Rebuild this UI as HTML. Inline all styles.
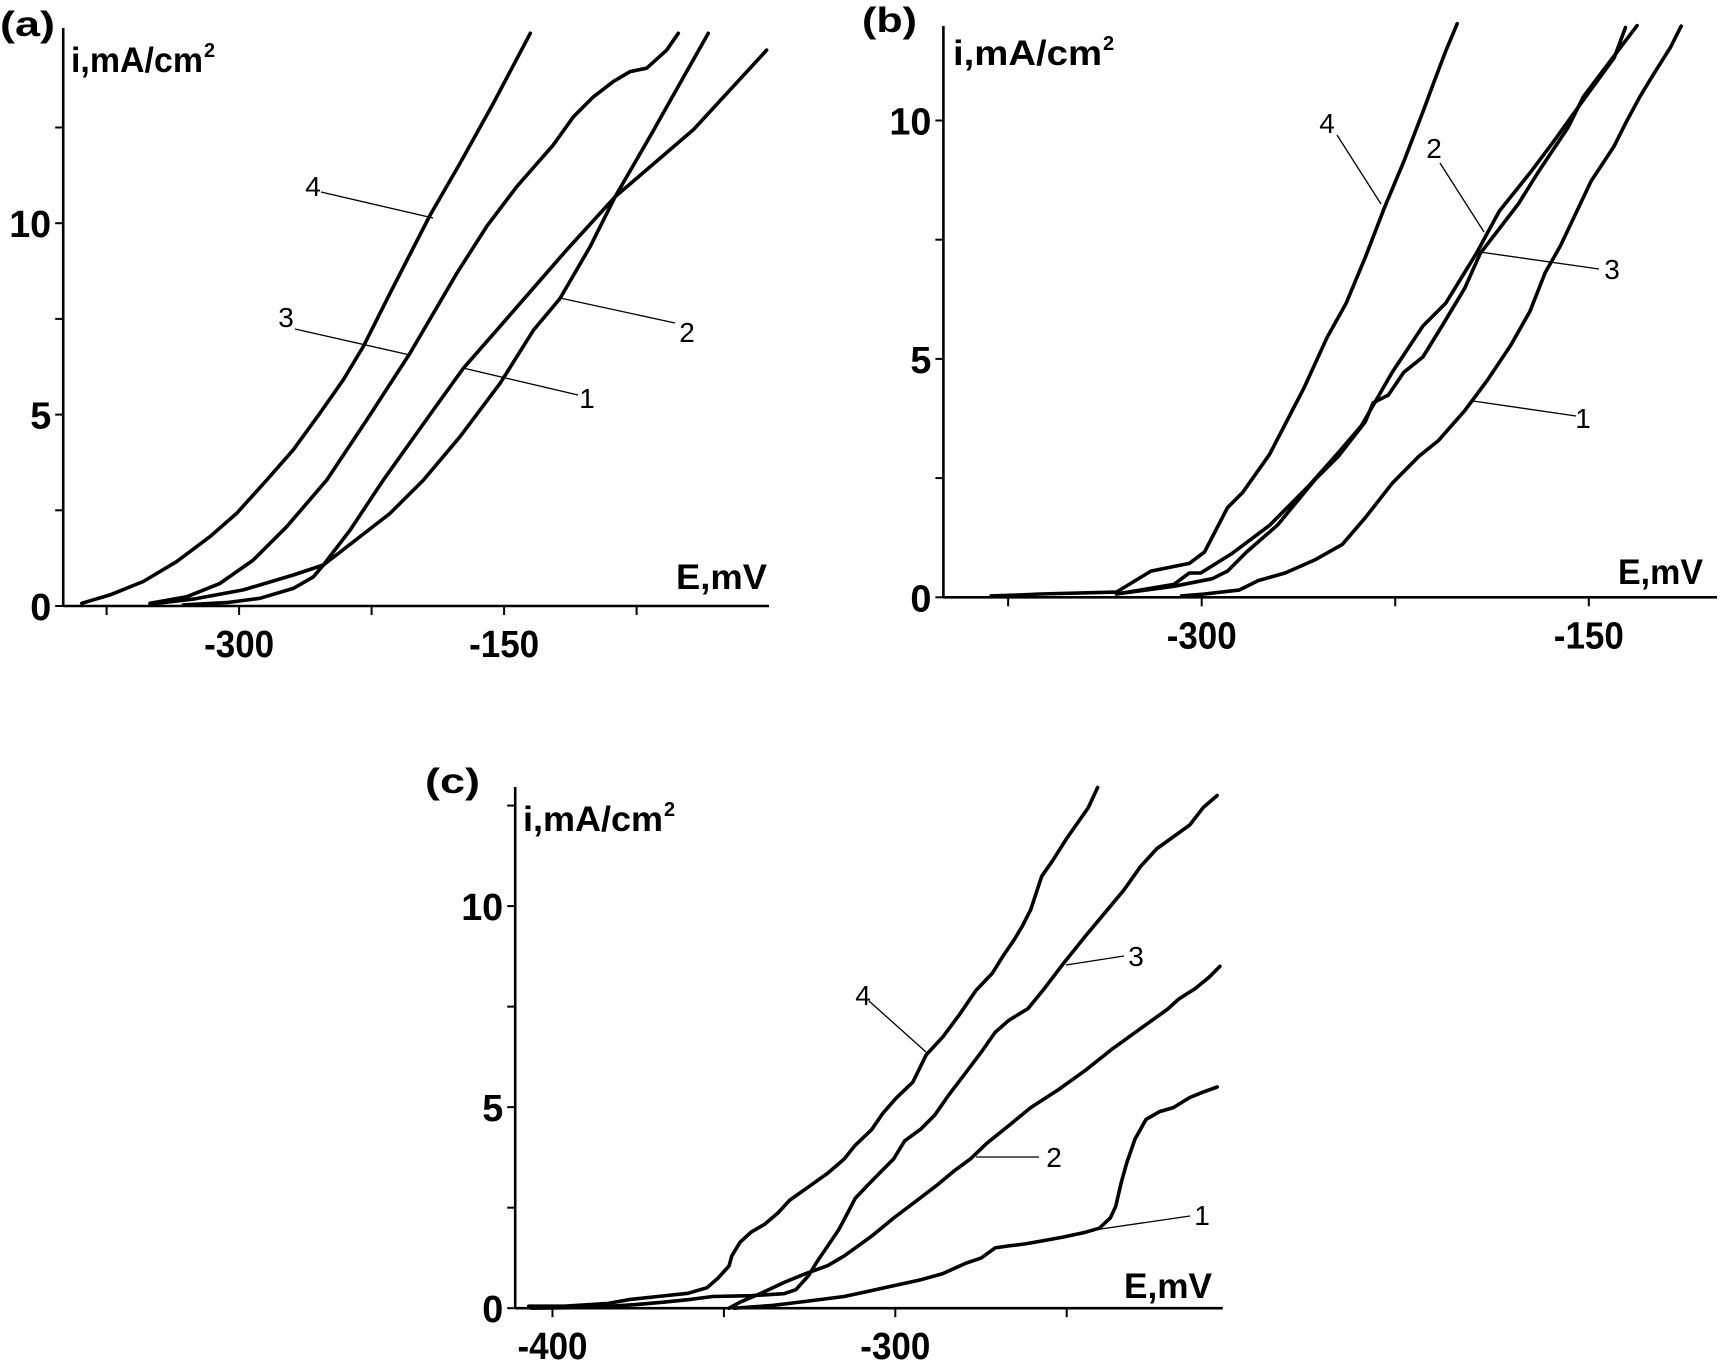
<!DOCTYPE html>
<html>
<head>
<meta charset="utf-8">
<style>
html,body{margin:0;padding:0;background:#fff;}
svg{display:block;}
text{font-family:"Liberation Sans",sans-serif;fill:#000;}
.tick{font-weight:bold;font-size:38px;}
.ttl{font-weight:bold;font-size:35px;}
.lab{font-size:28px;}
</style>
</head>
<body>
<svg id="chart" width="1724" height="1360" viewBox="0 0 1724 1360" xmlns="http://www.w3.org/2000/svg">
  <g id="pa"></g>
  <g id="pb"></g>
  <g id="pc"></g>
</svg>
<script>
// ---------- Panel (a) data ----------
const aXTicks = [-375, -300, -225, -150, -75];
const aXTickLabels = [-300, -150];
const aYTicks = [0, 2.5, 5, 7.5, 10, 12.5];
const aYTickLabels = [0, 5, 10];
const aE1 = [-331.6,-307.0,-288.2,-269.3,-258.0,-252.3,-237.2,-218.4,-190.1,-173.1,-152.4,-114.6,-87.2,-42.9,-1.4];
const aI1 = [0.03,0.09,0.2,0.46,0.76,1.07,1.98,3.29,5.12,6.21,7.3,9.3,10.69,12.44,14.52];
const aE2 = [-350.4,-325.9,-297.6,-269.3,-252.3,-214.6,-195.7,-175.0,-152.4,-133.5,-118.4,-101.4,-87.2,-67.5,-50.5,-34.4];
const aI2 = [0.05,0.18,0.42,0.81,1.07,2.42,3.29,4.42,5.81,7.2,8.03,9.38,10.69,12.26,13.65,14.96];
const aE3 = [-350.4,-329.7,-310.8,-292.0,-273.1,-250.4,-227.8,-203.3,-176.8,-159.9,-142.9,-122.2,-110.8,-99.5,-88.2,-78.7,-69.3,-58.0,-51.4];
const aI3 = [0.07,0.24,0.59,1.2,2.07,3.29,4.86,6.6,8.69,9.91,10.95,12.04,12.78,13.3,13.7,13.96,14.05,14.52,14.96];
const aE4 = [-389.1,-373.1,-354.2,-335.3,-316.5,-301.4,-284.4,-269.3,-254.2,-241.0,-229.7,-214.6,-192.0,-175.0,-156.1,-135.2];
const aI4 = [0.07,0.29,0.64,1.16,1.81,2.42,3.29,4.08,5.04,5.91,6.78,8.17,10.2,11.56,13.13,14.96];

// ---------- Panel (b) data ----------
const bXTicks = [-375, -300, -225, -150];
const bXTickLabels = [-300, -150];
const bYTicks = [0, 2.5, 5, 7.5, 10];
const bYTickLabels = [0, 5, 10];
const bE1 = [-307.8,-298.9,-285.5,-278.1,-267.7,-255.9,-245.5,-236.6,-226.2,-215.8,-208.4,-198.0,-189.2,-180.3,-172.8,-166.9,-161.0,-149.1,-140.2,-135.8,-130.2,-124.8,-118.4,-114.2];
const bI1 = [0.03,0.07,0.15,0.35,0.51,0.79,1.11,1.67,2.39,2.96,3.28,3.92,4.56,5.28,6.0,6.81,7.37,8.73,9.46,9.94,10.5,10.98,11.53,11.98];
const bE2 = [-333.0,-310.8,-304.8,-300.4,-288.5,-273.7,-258.8,-247.0,-238.1,-226.2,-214.3,-205.4,-193.6,-184.7,-172.8,-163.9,-152.1,-140.2,-135.8];
const bI2 = [0.07,0.27,0.51,0.51,0.91,1.51,2.32,3.04,3.6,4.72,5.69,6.17,7.21,8.1,8.9,9.54,10.43,11.31,11.95];
const bE3 = [-333.0,-310.8,-295.9,-290.0,-282.6,-270.7,-255.9,-247.0,-236.6,-233.6,-227.7,-221.7,-214.3,-206.9,-198.0,-192.1,-177.3,-169.8,-158.0,-152.1,-143.2,-131.3];
const bI3 = [0.07,0.23,0.39,0.55,0.95,1.51,2.48,2.96,3.68,4.08,4.24,4.72,5.04,5.69,6.49,7.21,8.25,8.9,9.86,10.5,11.14,11.99];
const bE4 = [-381.6,-369.9,-362.7,-333.0,-319.7,-304.8,-298.9,-290.0,-284.1,-273.7,-260.3,-251.4,-244.0,-236.6,-229.2,-221.7,-214.3,-209.9,-205.4,-201.0];
const bI4 = [0.03,0.05,0.07,0.11,0.55,0.71,0.95,1.88,2.2,3.0,4.4,5.45,6.17,7.13,8.17,9.14,10.18,10.82,11.46,12.03];

// ---------- Panel (c) data ----------
const cXTicks = [-400, -350, -300, -250];
const cXTickLabels = [-400, -300];
const cYTicks = [0, 2.5, 5, 7.5, 10, 12.5];
const cYTickLabels = [0, 5, 10];
const cE1 = [-346.9,-335.7,-326.1,-314.9,-308.5,-300.5,-292.5,-286.1,-279.7,-274.9,-270.9,-266.9,-262.1,-257.3,-250.9,-244.5,-240.5,-237.3,-235.7,-234.1,-232.5,-230.1,-226.9,-222.9,-218.9,-214.1,-210.1,-206.1];
const cI1 = [0.0,0.07,0.17,0.29,0.41,0.56,0.71,0.86,1.11,1.25,1.5,1.55,1.6,1.67,1.77,1.89,1.99,2.24,2.53,3.12,3.61,4.2,4.69,4.89,4.99,5.24,5.38,5.5];
const cE2 = [-348.5,-345.3,-338.9,-332.5,-326.1,-319.7,-314.9,-306.9,-300.5,-294.1,-287.7,-282.9,-278.1,-273.3,-266.9,-260.5,-252.5,-244.5,-236.5,-228.5,-220.5,-217.3,-212.5,-208.5,-205.3];
const cI2 = [0.0,0.15,0.38,0.64,0.86,1.06,1.3,1.79,2.24,2.65,3.07,3.41,3.71,4.1,4.54,4.99,5.43,5.92,6.46,6.95,7.44,7.69,7.95,8.23,8.5];
const cE3 = [-406.1,-388.5,-375.7,-367.7,-359.7,-353.3,-342.1,-332.5,-329.0,-325.3,-322.9,-319.7,-316.5,-314.1,-311.7,-308.5,-304.5,-300.5,-297.3,-292.5,-288.5,-284.5,-279.7,-274.9,-270.9,-266.9,-261.3,-256.5,-250.9,-244.5,-238.1,-233.3,-228.5,-223.7,-218.9,-214.1,-210.1,-206.1];
const cI3 = [0.0,0.02,0.09,0.15,0.22,0.29,0.31,0.36,0.46,0.81,1.15,1.55,1.95,2.34,2.73,3.02,3.37,3.71,4.16,4.46,4.8,5.29,5.83,6.37,6.86,7.16,7.45,7.95,8.58,9.26,9.91,10.4,10.98,11.43,11.72,12.02,12.46,12.75];
const cE4 = [-406.9,-396.5,-383.7,-377.3,-369.3,-360.5,-354.9,-351.7,-348.5,-347.7,-345.3,-342.1,-338.1,-334.1,-330.9,-325.3,-319.7,-314.9,-311.7,-306.9,-303.7,-299.7,-294.9,-291.0,-286.1,-281.3,-276.5,-271.7,-268.5,-265.3,-262.9,-260.5,-257.3,-254.1,-250.1,-246.9,-243.7,-241.0];
const cI4 = [0.05,0.05,0.12,0.22,0.29,0.37,0.51,0.75,1.05,1.3,1.64,1.89,2.09,2.38,2.68,3.02,3.36,3.71,4.05,4.44,4.84,5.23,5.62,6.3,6.75,7.3,7.9,8.33,8.77,9.17,9.51,9.91,10.74,11.13,11.67,12.06,12.45,12.95];

const SVGNS = "http://www.w3.org/2000/svg";
function el(tag, parent) {
  const e = document.createElementNS(SVGNS, tag);
  parent.appendChild(e);
  return e;
}

function makeAxes(x0, e0, pxPerMv, y0, pxPerUnit) {
  return {
    x: function (E) { return x0 + (E - e0) * pxPerMv; },
    y: function (i) { return y0 - i * pxPerUnit; }
  };
}
const axA = makeAxes(239.1, -300, 1.7667, 606, 38.28);
const axB = makeAxes(1201.7, -300, 2.5807, 597.3, 47.68);
const axC = makeAxes(552.5, -400, 3.428, 1308.2, 40.21);

function drawCurve(g, ax, E, I, name) {
  const p = el('path', g);
  let d = '';
  for (let k = 0; k < E.length; k++) {
    d += (k ? 'L' : 'M') + ax.x(E[k]).toFixed(1) + ' ' + ax.y(I[k]).toFixed(1);
  }
  p.setAttribute('d', d);
  p.setAttribute('fill', 'none');
  p.setAttribute('stroke', '#000');
  p.setAttribute('stroke-width', '3.6');
  p.setAttribute('stroke-linejoin', 'round');
  p.setAttribute('stroke-linecap', 'round');
  
  
}

function line(g, x1, y1, x2, y2, w, name) {
  const l = el('line', g);
  l.setAttribute('x1', x1); l.setAttribute('y1', y1);
  l.setAttribute('x2', x2); l.setAttribute('y2', y2);
  l.setAttribute('stroke', '#000');
  l.setAttribute('stroke-width', w);
  
  
  return l;
}

function text(g, x, y, str, cls, anchor, name) {
  const t = el('text', g);
  t.setAttribute('x', x);
  t.setAttribute('y', y);
  t.setAttribute('class', cls);
  t.setAttribute('text-anchor', anchor);
  t.textContent = str;
  
  
  return t;
}

function drawAxes(g, ax, L) {
  line(g, L.yAxisX, L.top, L.yAxisX, ax.y(0), 2.6, 'y-axis');
  line(g, L.yAxisX, ax.y(0), L.right, ax.y(0), 2.6, 'x-axis');
  L.xTicks.forEach(function (v) {
    line(g, ax.x(v), ax.y(0), ax.x(v), ax.y(0) + 9, 2, 'x-tick');
  });
  L.yTicks.forEach(function (v) {
    line(g, L.yAxisX - 8, ax.y(v), L.yAxisX, ax.y(v), 2, 'y-tick');
  });
  L.xLabels.forEach(function (v) {
    const t = text(g, ax.x(v), ax.y(0) + 51, String(v), 'tick', 'middle', 'x-tick-label');
    t.setAttribute('textLength', String(v).length * 17.5);
    t.setAttribute('lengthAdjust', 'spacingAndGlyphs');
  });
  L.yLabels.forEach(function (v) {
    const t = text(g, L.yAxisX - 12, ax.y(v) + 14, String(v), 'tick', 'end', 'y-tick-label');
    t.setAttribute('textLength', String(v).length * 21);
    t.setAttribute('lengthAdjust', 'spacingAndGlyphs');
  });
  const p = text(g, L.letter[0], L.letter[1], L.letterText, 'ttl', 'start', 'panel-label');
  p.setAttribute('textLength', '55');
  p.setAttribute('lengthAdjust', 'spacingAndGlyphs');
  const yt = text(g, L.yTitle[0], L.yTitle[1], 'i,mA/cm', 'ttl', 'start', 'y-axis-title');
  yt.setAttribute('textLength', L.yTitleW);
  yt.setAttribute('lengthAdjust', 'spacingAndGlyphs');
  const sup = text(g, L.yTitle[0] + L.yTitleW + 1, L.yTitle[1] - 15, '2', 'ttl', 'start', 'y-axis-title-superscript');
  sup.setAttribute('style', 'font-size:20px');
  const xt = text(g, L.xTitle[0], L.xTitle[1], 'E,mV', 'ttl', 'start', 'x-axis-title');
  xt.setAttribute('textLength', L.xTitleW);
  xt.setAttribute('lengthAdjust', 'spacingAndGlyphs');
}

function leader(g, lbl, name) {
  line(g, lbl[2], lbl[3], lbl[4], lbl[5], 1.3, name + '-leader');
  text(g, lbl[0], lbl[1], lbl[6], 'lab', 'middle', name);
}

// ---------- Panel a ----------
(function () {
  const g = document.getElementById('pa');
  drawAxes(g, axA, {
    yAxisX: 63.2, top: 28, right: 769,
    xTicks: aXTicks, yTicks: aYTicks, xLabels: aXTickLabels, yLabels: aYTickLabels,
    letter: [0, 36], letterText: '(a)',
    yTitle: [71, 72], yTitleW: 132,
    xTitle: [676, 589], xTitleW: 91
  });
  drawCurve(g, axA, aE1, aI1, 'curve-a-1');
  drawCurve(g, axA, aE2, aI2, 'curve-a-2');
  drawCurve(g, axA, aE3, aI3, 'curve-a-3');
  drawCurve(g, axA, aE4, aI4, 'curve-a-4');
  leader(g, [313, 196, 321, 192, 433, 218, '4'], 'curve-label-a-4');
  leader(g, [286, 327, 295, 329, 410, 355, '3'], 'curve-label-a-3');
  leader(g, [687, 342, 675, 323, 560, 298, '2'], 'curve-label-a-2');
  leader(g, [587, 408, 578, 395, 463, 368, '1'], 'curve-label-a-1');
})();

// ---------- Panel b ----------
(function () {
  const g = document.getElementById('pb');
  drawAxes(g, axB, {
    yAxisX: 943.4, top: 26, right: 1717,
    xTicks: bXTicks, yTicks: bYTicks, xLabels: bXTickLabels, yLabels: bYTickLabels,
    letter: [862, 32], letterText: '(b)',
    yTitle: [953, 65], yTitleW: 149,
    xTitle: [1618, 584], xTitleW: 85
  });
  drawCurve(g, axB, bE1, bI1, 'curve-b-1');
  drawCurve(g, axB, bE2, bI2, 'curve-b-2');
  drawCurve(g, axB, bE3, bI3, 'curve-b-3');
  drawCurve(g, axB, bE4, bI4, 'curve-b-4');
  leader(g, [1327, 133, 1337, 135, 1381, 204, '4'], 'curve-label-b-4');
  leader(g, [1434, 158, 1440, 163, 1484, 232, '2'], 'curve-label-b-2');
  leader(g, [1612, 279, 1599, 269, 1480, 252, '3'], 'curve-label-b-3');
  leader(g, [1583, 428, 1576, 416, 1473, 401, '1'], 'curve-label-b-1');
})();

// ---------- Panel c ----------
(function () {
  const g = document.getElementById('pc');
  drawAxes(g, axC, {
    yAxisX: 515.2, top: 787, right: 1222.8,
    xTicks: cXTicks, yTicks: cYTicks, xLabels: cXTickLabels, yLabels: cYTickLabels,
    letter: [425, 793], letterText: '(c)',
    yTitle: [523, 831], yTitleW: 140,
    xTitle: [1124, 1298], xTitleW: 88
  });
  drawCurve(g, axC, cE1, cI1, 'curve-c-1');
  drawCurve(g, axC, cE2, cI2, 'curve-c-2');
  drawCurve(g, axC, cE3, cI3, 'curve-c-3');
  drawCurve(g, axC, cE4, cI4, 'curve-c-4');
  leader(g, [863, 1005, 869, 1001, 926, 1052, '4'], 'curve-label-c-4');
  leader(g, [1136, 966, 1124, 956, 1066, 965, '3'], 'curve-label-c-3');
  leader(g, [1054, 1167, 1039, 1157, 976, 1157, '2'], 'curve-label-c-2');
  leader(g, [1202, 1225, 1190, 1216, 1094, 1230, '1'], 'curve-label-c-1');
})();
</script>
</body>
</html>
